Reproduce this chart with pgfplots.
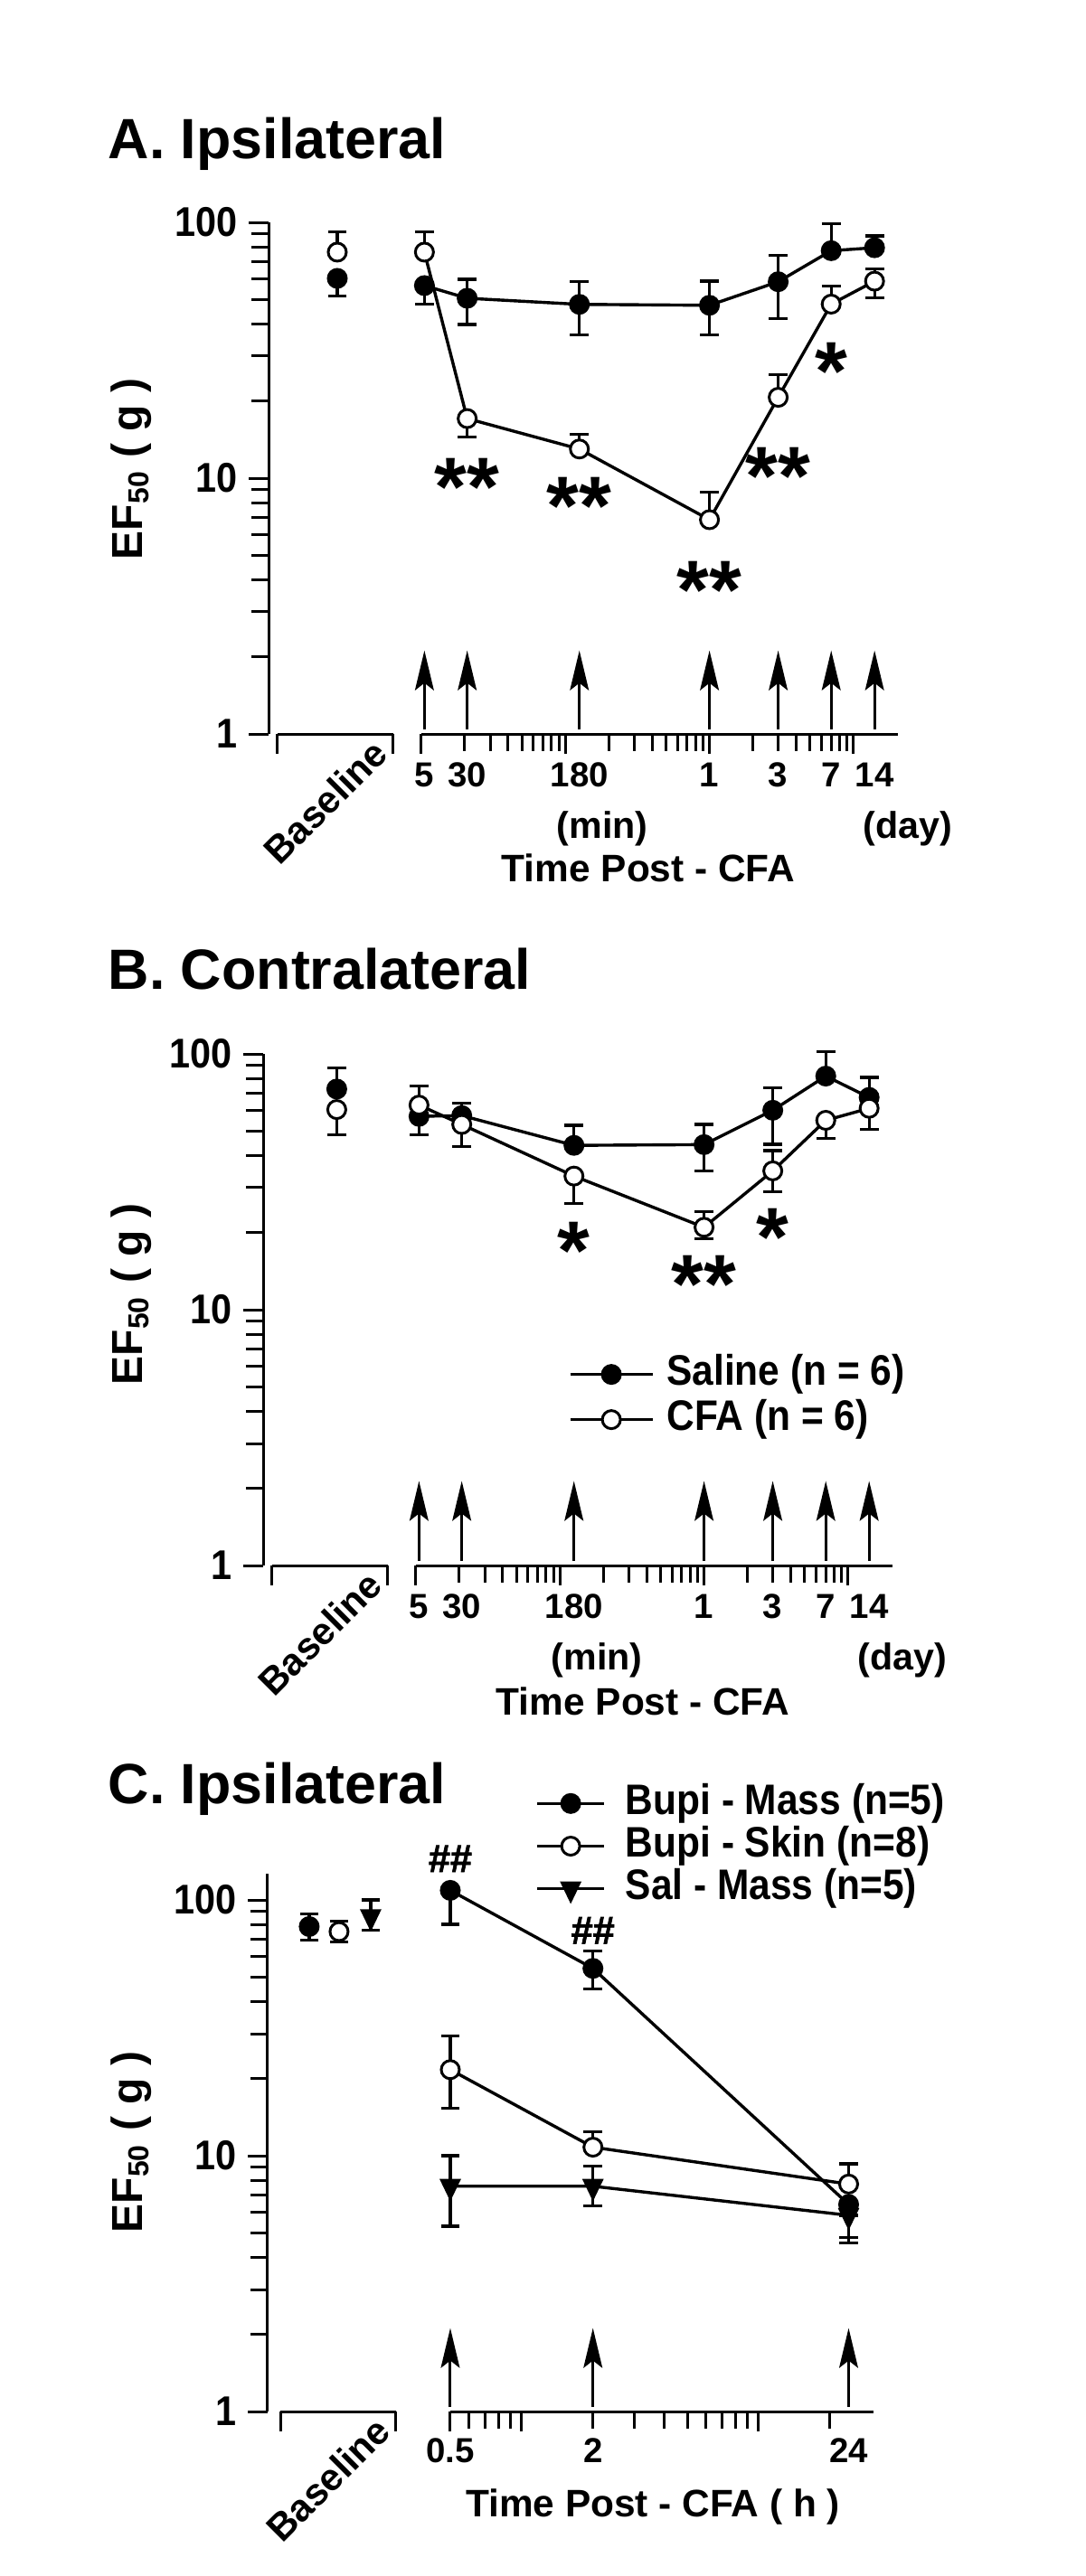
\documentclass[border=0pt]{standalone}
\usepackage{pgfplots}
\pgfplotsset{compat=1.18}
\usetikzlibrary{arrows.meta}
\usepackage{fontspec}
\setmainfont{Liberation Sans}
\newfontfamily\cfont{Liberation Sans}[FakeStretch=0.9]
\newfontfamily\hfont{Liberation Sans}[FakeBold=1.6]
\newcommand\fs[1]{\fontsize{#1}{#1}\selectfont\bfseries}

\pgfplotsset{
  panel/.style={
    scale only axis,
    axis lines*=left, x axis line style={draw=none},
    axis line style={line width=0.75pt},
    tick align=outside, tick style={black, line width=0.75pt},
    major tick length=5.5pt, minor tick length=4.7pt,
    ymin=1, ytick={1,10,100}, yticklabels={1,10,100},
    minor ytick={2,3,4,5,6,7,8,9,20,30,40,50,60,70,80,90},
    yticklabel style={font=\cfont\fs{11.5}, inner sep=0pt, xshift=-3pt},
    xticklabels={,,,,,,}, clip=false,
  },
  ebar/.style={only marks, mark=*, mark size=0.3pt, forget plot,
    error bars/y dir=both, error bars/y explicit,
    error bars/error mark=-,
    error bars/error bar style={draw=black, line width=0.8pt},
    error bars/error mark options={rotate=90, draw=black, line width=0.8pt, mark size=2.6pt}},
  filled/.style={black, line width=0.85pt, mark=*, mark size=2.5pt,
    mark options={solid, fill=black, line width=0.75pt}},
  open/.style={black, line width=0.85pt, mark=*, mark size=2.5pt,
    mark options={solid, fill=white, line width=0.75pt}},
  tri/.style={black, line width=0.85pt, mark=triangle*, mark size=2.9pt,
    mark options={solid, fill=black, rotate=180, yscale=1.2, line width=0.6pt}},
}
\tikzset{
  arr/.style={line width=0.75pt, -{Stealth[length=11pt, width=5.2pt, inset=2pt]}},
  seg/.style={line width=0.75pt},
  sig/.style={font=\fs{23}, anchor=base, yshift=-12.8pt, inner sep=0pt},
  hash/.style={font=\hfont\fs{10.8}, anchor=center, inner sep=0pt},
}
\newcommand\xl[3]{\node[font=\fs{9.6}, anchor=base, inner sep=0pt] at (axis cs:#1,1) [yshift=#3] {#2};}

\begin{document}
\begin{tikzpicture}
\path[use as bounding box] (0,0) rectangle (300pt,-712.5pt);

% ---------- A. Ipsilateral ----------
\begin{axis}[xmode=log, ymode=log, panel, at={(74.25pt,-203pt)}, anchor=south west,
  width=174pt, height=141.5pt,
  xmin=0.08693, xmax=2033.4, ymax=100,
  xtick={0.1004,0.6389,1,10,100,1000},
  minor xtick={2,3,4,5,6,7,8,9,20,30,40,50,60,70,80,90,200,300,400,500,600,700,800,900}]
\draw[seg] (axis cs:0.1004,1) -- (axis cs:0.6389,1);
\draw[seg] (axis cs:1,1) -- (axis cs:2033.4,1);
\pgfplotsinvokeforeach{1.05,2.08,12.5,100,300,700,1400}{\draw[arr] (axis cs:#1,1.04) -- (axis cs:#1,2.12);}
\xl{1.05}{5}{-14.7pt}\xl{2.08}{30}{-14.7pt}\xl{12.5}{180}{-14.7pt}
\xl{100}{1}{-14.7pt}\xl{300}{3}{-14.7pt}\xl{700}{7}{-14.7pt}\xl{1400}{14}{-14.7pt}
% error bars: saline
\addplot[ebar] coordinates {(0.2607,60.4) += (0,0) -= (0,8.9) (1.05,56.6) += (0,0) -= (0,8.8)
  (2.08,50.5) += (0,9.4) -= (0,10.6) (12.5,47.8) += (0,10.8) -= (0,11.5)
  (100,47.4) += (0,11.5) -= (0,11.1) (300,58.6) += (0,15.6) -= (0,16.6)
  (700,77.5) += (0,21.1) -= (0,0) (1400,79.6) += (0,8.9) -= (0,0)};
% error bars: CFA
\addplot[ebar] coordinates {(0.2607,76.5) += (0,15.2) -= (0,0) (1.05,76.5) += (0,15.2) -= (0,0)
  (2.08,17.1) += (0,0) -= (0,2.6) (12.5,13.0) += (0,1.8) -= (0,0)
  (100,6.88) += (0,1.95) -= (0,0) (300,20.7) += (0,4.7) -= (0,0)
  (700,47.9) += (0,8.3) -= (0,0) (1400,58.9) += (0,7.0) -= (0,8.1)};
\addplot[filled, only marks, forget plot] coordinates {(0.2607,60.4)};
\addplot[filled] coordinates {(1.05,56.6) (2.08,50.5) (12.5,47.8) (100,47.4) (300,58.6) (700,77.5) (1400,79.6)};
\addplot[open, only marks, forget plot] coordinates {(0.2607,76.5)};
\addplot[open] coordinates {(1.05,76.5) (2.08,17.1) (12.5,13.0) (100,6.88) (300,20.7) (700,47.9) (1400,58.9)};
\node[sig] at (axis cs:2.08,10.8) {**};
\node[sig] at (axis cs:12.5,9.15) {**};
\node[sig] at (axis cs:100,4.29) {**};
\node[sig] at (axis cs:300,11.9) {**};
\node[sig] at (axis cs:700,30.6) {*};
\end{axis}

% ---------- B. Contralateral ----------
\begin{axis}[xmode=log, ymode=log, panel, at={(72.75pt,-433pt)}, anchor=south west,
  width=174pt, height=141.5pt,
  xmin=0.08693, xmax=2033.4, ymax=100,
  xtick={0.1004,0.6389,1,10,100,1000},
  minor xtick={2,3,4,5,6,7,8,9,20,30,40,50,60,70,80,90,200,300,400,500,600,700,800,900},
  legend style={at={(0.4842,0.4134)}, anchor=north west, draw=none, fill=none,
    inner sep=0pt, font=\cfont\fs{11.8}, row sep=1.6pt, column sep=3.5pt,
    nodes={inner sep=0pt, text height=8.5pt, text depth=2.4pt}},
  legend cell align=left,
  legend image code/.code={\draw[mark repeat=2, mark phase=2, #1] plot coordinates {(0pt,0pt) (11.4pt,0pt) (22.8pt,0pt)};}]
\draw[seg] (axis cs:0.1004,1) -- (axis cs:0.6389,1);
\draw[seg] (axis cs:1,1) -- (axis cs:2033.4,1);
\pgfplotsinvokeforeach{1.05,2.08,12.5,100,300,700,1400}{\draw[arr] (axis cs:#1,1.04) -- (axis cs:#1,2.14);}
\xl{1.05}{5}{-14.7pt}\xl{2.08}{30}{-14.7pt}\xl{12.5}{180}{-14.7pt}
\xl{100}{1}{-14.7pt}\xl{300}{3}{-14.7pt}\xl{700}{7}{-14.7pt}\xl{1400}{14}{-14.7pt}
\addplot[ebar] coordinates {(0.282,72.9) += (0,15.2) -= (0,0) (1.05,57.0) += (0,0) -= (0,8.6)
  (2.08,57.4) += (0,6.6) -= (0,0) (12.5,43.9) += (0,8.7) -= (0,0)
  (100,44.2) += (0,8.8) -= (0,9.3) (300,60.2) += (0,13.3) -= (0,15.9)
  (700,81.9) += (0,19.9) -= (0,0) (1400,67.6) += (0,13.4) -= (0,0)};
\addplot[ebar] coordinates {(0.282,60.6) += (0,0) -= (0,12.2) (1.05,63.1) += (0,11.7) -= (0,0)
  (2.08,53.0) += (0,0) -= (0,9.5) (12.5,33.3) += (0,0) -= (0,7.2)
  (100,21.0) += (0,3.2) -= (0,2.0) (300,34.9) += (0,7.0) -= (0,6.0)
  (700,55.0) += (0,0) -= (0,8.3) (1400,61.3) += (0,0) -= (0,10.7)};
\addplot[filled, only marks, forget plot] coordinates {(0.282,72.9)};
\addplot[filled] coordinates {(1.05,57.0) (2.08,57.4) (12.5,43.9) (100,44.2) (300,60.2) (700,81.9) (1400,67.6)};
\addlegendentry{Saline (n = 6)}
\addplot[open, only marks, forget plot] coordinates {(0.282,60.6)};
\addplot[open] coordinates {(1.05,63.1) (2.08,53.0) (12.5,33.3) (100,21.0) (300,34.9) (700,55.0) (1400,61.3)};
\addlegendentry{CFA (n = 6)}
\node[sig] at (axis cs:12.5,19.9) {*};
\node[sig] at (axis cs:100,14.8) {**};
\node[sig] at (axis cs:300,22.6) {*};
\end{axis}

% ---------- C. Ipsilateral ----------
\begin{axis}[xmode=log, ymode=log, panel, at={(74pt,-667pt)}, anchor=south west,
  width=167.5pt, height=148.75pt,
  xmin=0.08474, xmax=30.56, ymax=126.6,
  xtick={0.09623,0.2951,0.5,1,10},
  minor xtick={0.6,0.7,0.8,0.9,2,3,4,5,6,7,8,9,20},
  legend style={at={(0.4413,1.1686)}, anchor=north west, draw=none, fill=none,
    inner sep=0pt, font=\cfont\fs{11.8}, row sep=0.9pt, column sep=5.5pt,
    nodes={inner sep=0pt, text height=8.5pt, text depth=2.4pt}},
  legend cell align=left,
  legend image code/.code={\draw[mark repeat=2, mark phase=2, #1] plot coordinates {(0pt,0pt) (9.25pt,0pt) (18.5pt,0pt)};}]
\draw[seg] (axis cs:0.09623,1) -- (axis cs:0.2951,1);
\draw[seg] (axis cs:0.5,1) -- (axis cs:30.56,1);
\pgfplotsinvokeforeach{0.5,2,24}{\draw[arr] (axis cs:#1,1.04) -- (axis cs:#1,2.12);}
\xl{0.5}{0.5}{-14pt}\xl{2}{2}{-14pt}\xl{24}{24}{-14pt}
\addplot[ebar] coordinates {(0.1269,78.7) += (0,9.5) -= (0,9.0) (0.5,109) += (0,0) -= (0,28.7)
  (2,54) += (0,9) -= (0,9) (24,6.45) += (0,0) -= (0,1.65)};
\addplot[ebar] coordinates {(0.1696,75.2) += (0,7.3) -= (0,6.8) (0.5,21.7) += (0,7.7) -= (0,6.4)
  (2,10.8) += (0,1.6) -= (0,0) (24,7.75) += (0,1.55) -= (0,0)};
\addplot[ebar] coordinates {(0.2307,86.1) += (0,13.9) -= (0,10.1) (0.5,7.6) += (0,2.4) -= (0,2.3)
  (2,7.6) += (0,1.5) -= (0,1.25) (24,5.85) += (0,0) -= (0,1.3)};
\addplot[filled, only marks, forget plot] coordinates {(0.1269,78.7)};
\addplot[filled] coordinates {(0.5,109) (2,54) (24,6.45)};
\addlegendentry{Bupi - Mass (n=5)}
\addplot[open, only marks, forget plot] coordinates {(0.1696,75.2)};
\addplot[open] coordinates {(0.5,21.7) (2,10.8) (24,7.75)};
\addlegendentry{Bupi - Skin (n=8)}
\addplot[tri, only marks, forget plot] coordinates {(0.2307,86.1)};
\addplot[tri] coordinates {(0.5,7.6) (2,7.6) (24,5.85)};
\addlegendentry{Sal - Mass (n=5)}
\node[hash] at (axis cs:0.5,145) {\#\#};
\node[hash] at (axis cs:2,76) {\#\#};
\end{axis}

% ---------- titles and labels (pixel frame) ----------
\begin{scope}[x=0.25pt, y=-0.25pt]
\node[font=\fs{15.7}, anchor=base west, inner sep=0pt] at (119,175) {A. Ipsilateral};
\node[font=\fs{15.7}, anchor=base west, inner sep=0pt] at (119,1094) {B. Contralateral};
\node[font=\fs{15.7}, anchor=base west, inner sep=0pt] at (119,1995) {C. Ipsilateral};
\node[font=\fs{12}, rotate=90, inner sep=0pt] at (145,519) {EF\textsubscript{50} ( g )};
\node[font=\fs{12}, rotate=90, inner sep=0pt] at (145,1432) {EF\textsubscript{50} ( g )};
\node[font=\fs{12}, rotate=90, inner sep=0pt] at (145,2370) {EF\textsubscript{50} ( g )};
\node[font=\fs{10.5}, rotate=45, anchor=base east, inner sep=0pt] at (432,836) {Baseline};
\node[font=\fs{10.5}, rotate=45, anchor=base east, inner sep=0pt] at (426,1756) {Baseline};
\node[font=\fs{10.5}, rotate=45, anchor=base east, inner sep=0pt] at (435,2692) {Baseline};
\node[font=\fs{10.3}, anchor=base, inner sep=0pt] at (666,927) {(min)};
\node[font=\fs{10.3}, anchor=base, inner sep=0pt] at (1004,927) {(day)};
\node[font=\fs{10.6}, anchor=base, inner sep=0pt] at (717,975) {Time Post - CFA};
\node[font=\fs{10.3}, anchor=base, inner sep=0pt] at (660,1847) {(min)};
\node[font=\fs{10.3}, anchor=base, inner sep=0pt] at (998,1847) {(day)};
\node[font=\fs{10.6}, anchor=base, inner sep=0pt] at (711,1897) {Time Post - CFA};
\node[font=\fs{10.6}, anchor=base, inner sep=0pt] at (722,2784) {Time Post - CFA ( h )};
\end{scope}
\end{tikzpicture}
\end{document}
